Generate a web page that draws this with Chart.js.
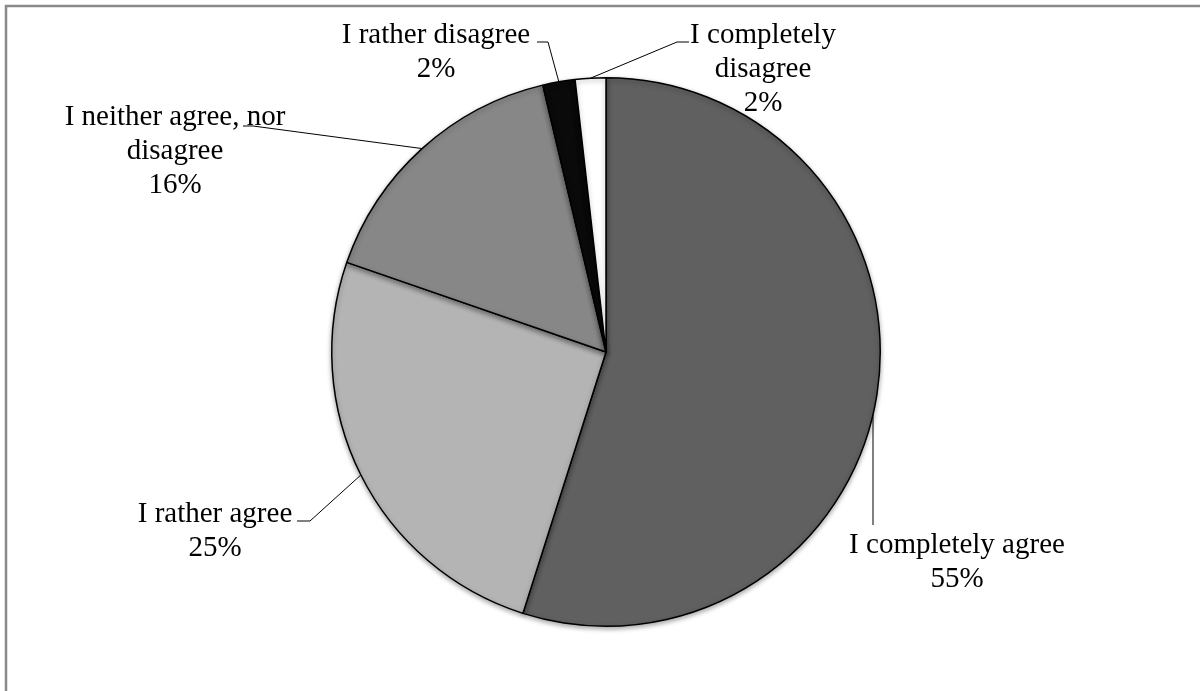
<html>
<head>
<script src="https://cdn.jsdelivr.net/npm/chart.js@4.4.0/dist/chart.umd.min.js"></script>
<style>body{margin:0;background:#fff;}</style>
</head>
<body>
<canvas id="pc" width="1200" height="691"></canvas>
<script>
  // answers (percent of respondents)
  var answers = ['I completely agree', 'I rather agree', 'I neither agree, nor disagree', 'I rather disagree', 'I completely disagree'];
  var shares = [54.9, 25.4, 16.0, 1.9, 1.8];
  var sliceColors = ['#606060', '#b4b4b4', '#878787', '#0a0a0a', '#ffffff'];
  // label text split into lines as shown
  var labelLines = [['I completely agree'], ['I rather agree'], ['I neither agree, nor', 'disagree'], ['I rather disagree'], ['I completely', 'disagree']];

  eb = s => document.getElementById(s);

  // where each label sits and how its leader bends (layout only)
  var lblPos = [
    {cx: 957, y: 553, bend: [[873, 525]], vert: true},
    {cx: 215, y: 522, bend: [[310, 521], [297, 521]]},
    {cx: 175, y: 125, bend: [[253, 126], [243, 126]]},
    {cx: 436, y: 43, bend: [[548, 42], [537, 42]]},
    {cx: 763, y: 43, bend: [[677, 42], [689, 42]]}
  ];

  var frame = {
    id: 'frame',
    beforeDraw(c) {
      var x = c.ctx;
      x.save();
      x.strokeStyle = '#8a8a8a';
      x.lineWidth = 2.5;
      x.strokeRect(6, 6, 1210, 710);
      x.restore();
    }
  };

  var shade = {
    id: 'shade',
    beforeDatasetDraw(c) {
      var x = c.ctx;
      x.save();
      x.shadowColor = 'rgba(0,0,0,0.35)';
      x.shadowBlur = 5;
      x.shadowOffsetY = 2;
    },
    afterDatasetDraw(c) { c.ctx.restore(); }
  };

  var labels = {
    id: 'labels',
    afterDatasetsDraw(c) {
      var x = c.ctx;
      var arcs = c.getDatasetMeta(0).data;
      var tot = shares.reduce((a, b) => a + b, 0);
      x.save();
      x.font = '29px "Liberation Serif", "Times New Roman", serif';
      x.fillStyle = '#000';
      x.textAlign = 'center';
      x.textBaseline = 'alphabetic';
      arcs.forEach((a, i) => {
        var p = a.getProps(['x', 'y', 'startAngle', 'endAngle', 'outerRadius'], true);
        var L = lblPos[i];
        var m = (p.startAngle + p.endAngle) / 2;
        if (L.vert) m = Math.acos((L.bend[0][0] - p.x) / p.outerRadius);
        var ax = p.x + Math.cos(m) * p.outerRadius, ay = p.y + Math.sin(m) * p.outerRadius;
        x.strokeStyle = '#000';
        x.lineWidth = 1;
        x.beginPath();
        x.moveTo(ax, ay);
        L.bend.forEach(b => x.lineTo(b[0], b[1]));
        x.stroke();
        var lines = labelLines[i].concat([Math.round(shares[i] / tot * 100) + '%']);
        lines.forEach((t, k) => x.fillText(t, L.cx, L.y + k * 34));
      });
      x.restore();
    }
  };

  var pc = new Chart(eb('pc'), {
    type: 'pie',
    data: {
      labels: answers,
      datasets: [{
        data: shares,
        backgroundColor: sliceColors,
        borderColor: '#000',
        borderWidth: 1.5
      }]
    },
    options: {
      responsive: false,
      animation: false,
      events: [],
      layout: {padding: {left: 331, right: 319, top: 77, bottom: 64}},
      plugins: {legend: {display: false}, tooltip: {enabled: false}}
    },
    plugins: [frame, shade, labels]
  });
</script>
</body>
</html>
